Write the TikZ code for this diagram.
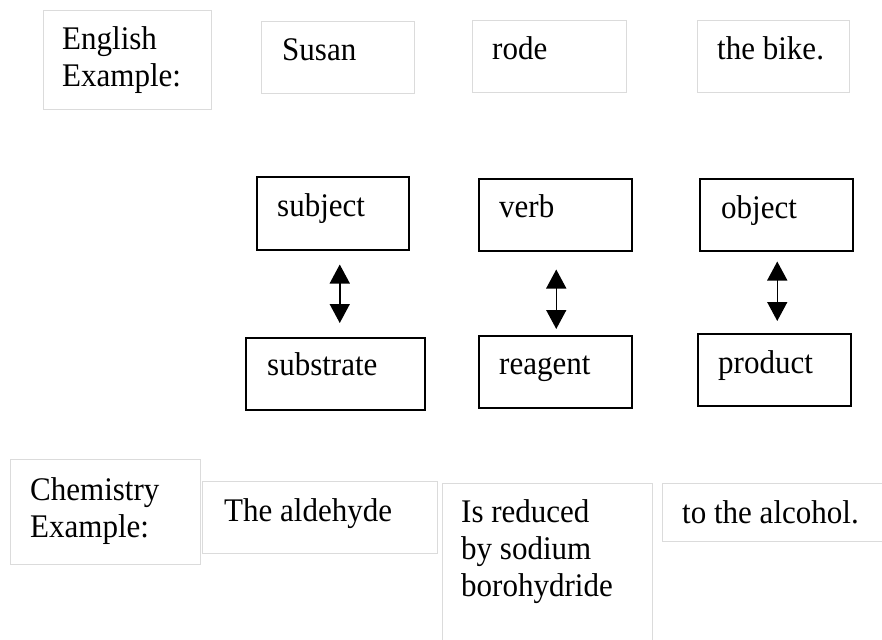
\documentclass[tikz,border=0pt]{standalone}
\usepackage{fontspec}
\setmainfont{Liberation Serif}[FakeStretch=0.94]
\usetikzlibrary{arrows.meta,calc}

\begin{document}
\begin{tikzpicture}[x=1pt,y=-1pt,
		wbox/.style={draw=black!14,line width=1pt,anchor=north west,inner sep=0pt},
		cbox/.style={draw,line width=1.5pt,anchor=north west,inner sep=0pt},
		word/.style={anchor=base west,inner sep=0pt,align=left,font=\fontsize{33}{37}\selectfont},
		pair/.style={{Triangle[width=20pt,length=19pt]}-{Triangle[width=20pt,length=19pt]},line width=1.5pt}
		]
		\clip (0,0) rectangle (882,639);
		
		% english sentence
		\node[wbox,minimum width=168,minimum height=99] (eng) at (43,10) {};
		\node[wbox,minimum width=153,minimum height=72] (susan) at (261,21) {};
		\node[wbox,minimum width=154,minimum height=72] (rode) at (472,20) {};
		\node[wbox,minimum width=152,minimum height=72] (bike) at (697,20) {};
		% multi-line texts sit on the baseline of their last line
		\node[word] (engtxt) at (62,87) {English\\Example:};
		\node[word] (susantxt) at (282,61) {Susan};
		\node[word] (rodetxt) at (492,60) {rode};
		\node[word] (biketxt) at (717,60) {the bike.};
		
		% grammar and chemistry roles
		\node[cbox,minimum width=152,minimum height=73] (subj) at (256,176) {};
		\node[cbox,minimum width=153,minimum height=72] (verb) at (478,178) {};
		\node[cbox,minimum width=153,minimum height=72] (obj) at (699,178) {};
		\node[cbox,minimum width=179,minimum height=72] (subs) at (245,337) {};
		\node[cbox,minimum width=153,minimum height=72] (reag) at (478,335) {};
		\node[cbox,minimum width=153,minimum height=72] (prod) at (697,333) {};
		\node[word] (subjtxt) at (277,216) {subject};
		\node[word] (verbtxt) at (499,217) {verb};
		\node[word] (objtxt) at (721,218) {object};
		\node[word] (substxt) at (267,375) {substrate};
		\node[word] (reagtxt) at (499,374) {reagent};
		\node[word] (prodtxt) at (718,373) {product};
		
		% chemistry sentence
		\node[wbox,minimum width=190,minimum height=105] (chem) at (10,459) {};
		\node[wbox,minimum width=235,minimum height=72] (ald) at (202,481) {};
		\node[wbox,minimum width=210,minimum height=200] (red) at (442,483) {};
		\node[wbox,minimum width=240,minimum height=58] (alc) at (662,483) {};
		\node[word] (chemtxt) at (30,537) {Chemistry\\Example:};
		\node[word] (aldtxt) at (224,521) {The aldehyde};
		\node[word] (redtxt) at (461,596) {Is reduced\\by sodium\\borohydride};
		\node[word] (alctxt) at (682,523) {to the alcohol.};
		
		% arrows
		\draw[pair,shorten <=14pt,shorten >=14pt] ([xshift=7pt]subj.south) -- ([xshift=7pt]subj.south |- subs.north);
		\draw[pair,shorten <=18pt,shorten >=6pt] ([xshift=1pt]verb.south) -- ([xshift=1pt]verb.south |- reag.north);
		\draw[pair,shorten <=10pt,shorten >=12pt] ([xshift=1pt]obj.south) -- ([xshift=1pt]obj.south |- prod.north);
	\end{tikzpicture}
\end{document}
